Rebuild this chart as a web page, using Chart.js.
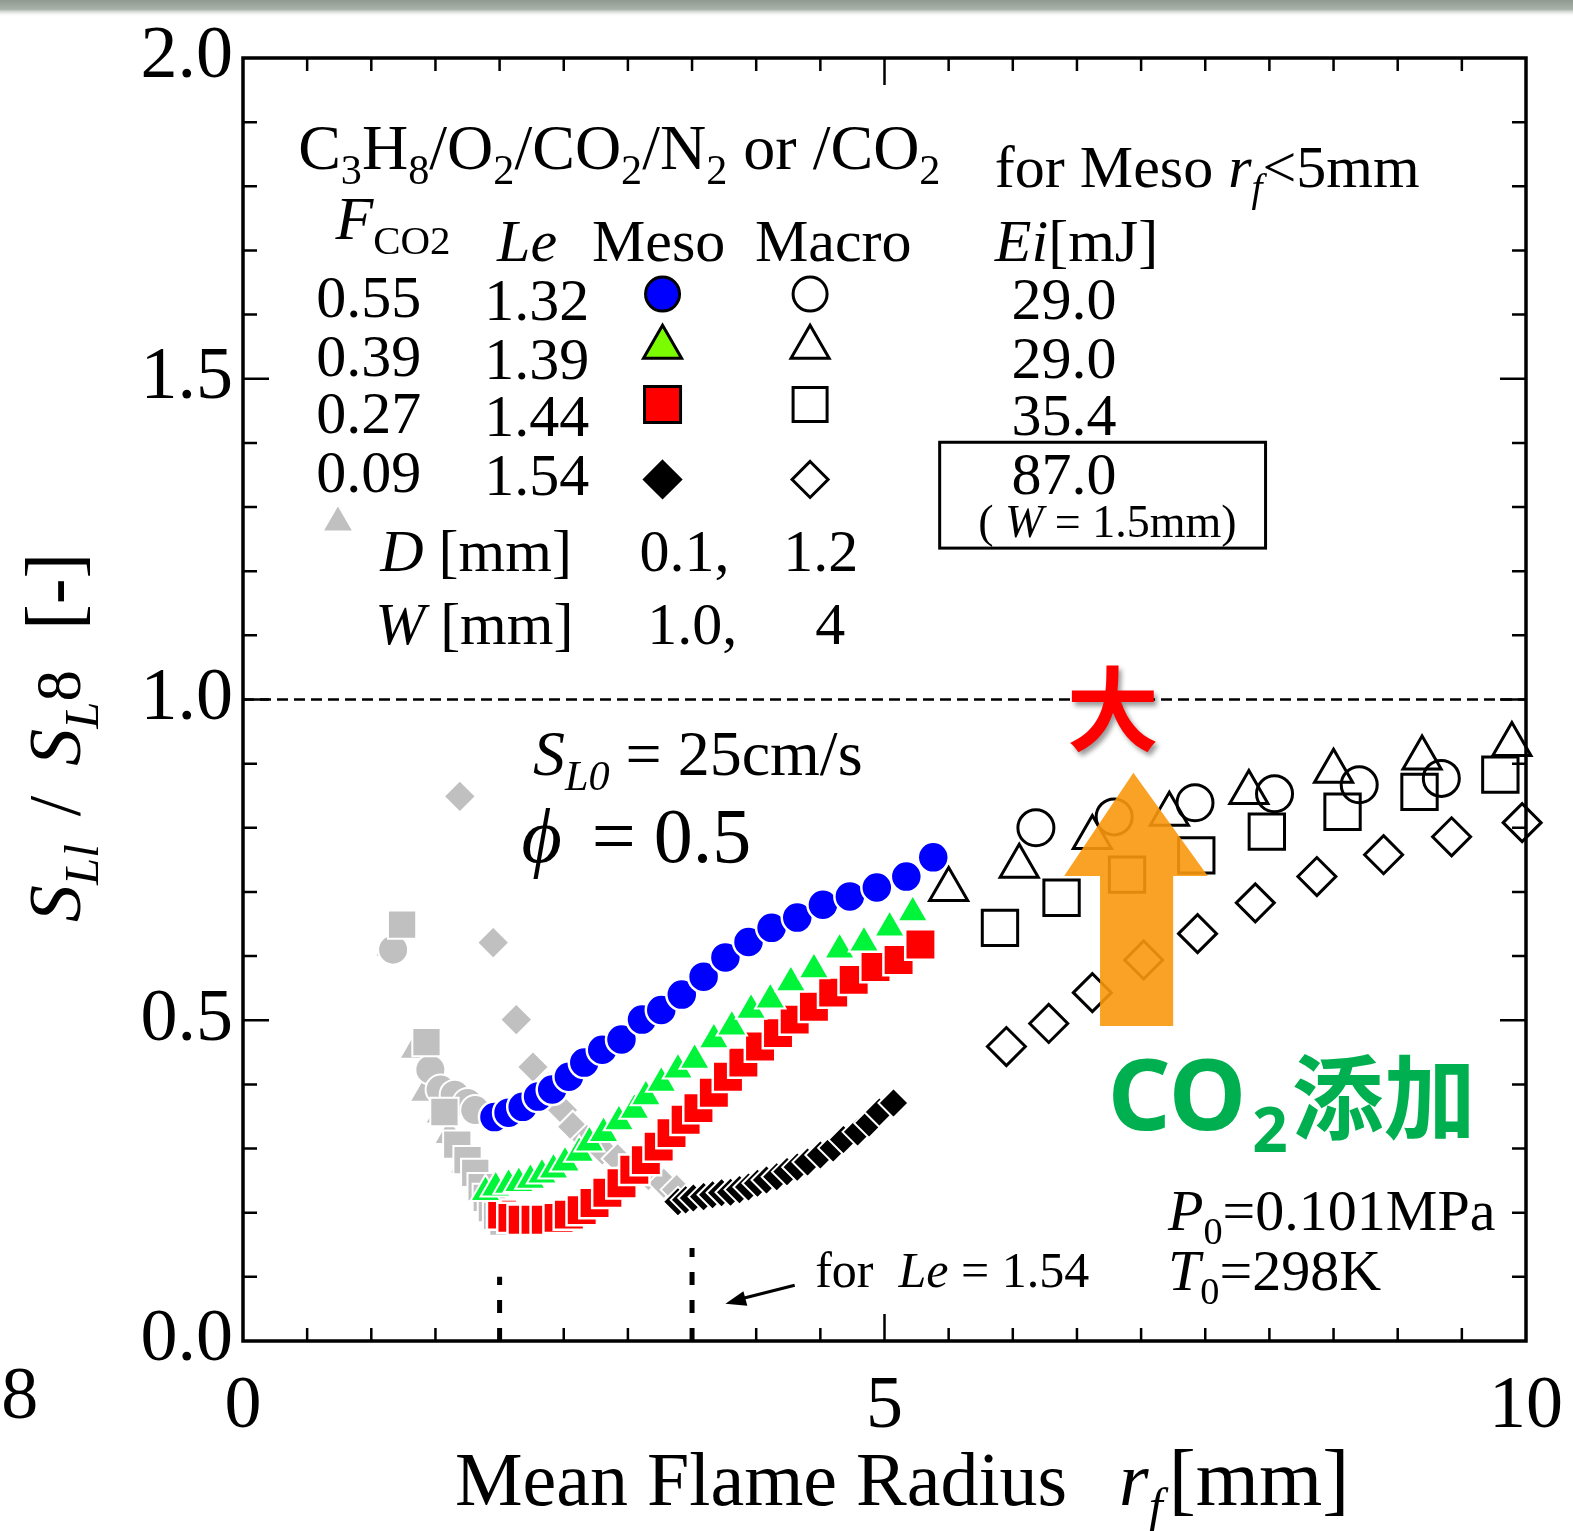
<!DOCTYPE html>
<html>
<head>
<meta charset="utf-8">
<script src="https://cdn.jsdelivr.net/npm/chart.js@4.4.1/dist/chart.umd.min.js"></script>
<style>
  html, body { margin: 0; padding: 0; background: #fff; }
  canvas { display: block; }
</style>
</head>
<body>
<canvas id="flameChart" width="1573" height="1531"></canvas>
<script>
const SERIF = '"Liberation Serif", "Times New Roman", serif';
const SANS = '"Noto Sans", "Liberation Sans", sans-serif';
const CJK = '"Noto Sans CJK JP", "Noto Sans CJK SC", sans-serif';

// Meso burner (filled symbols): r_f [mm] vs S_Ll / S_L8
const mesoCircleX = [1.96, 2.07, 2.18, 2.30, 2.41, 2.54, 2.66, 2.80, 2.95, 3.11, 3.26, 3.42, 3.59, 3.76, 3.94, 4.12, 4.32, 4.52, 4.73, 4.94, 5.17, 5.38];
const mesoCircleY = [0.349, 0.356, 0.365, 0.381, 0.392, 0.412, 0.434, 0.454, 0.470, 0.501, 0.516, 0.540, 0.568, 0.598, 0.622, 0.644, 0.660, 0.680, 0.693, 0.707, 0.724, 0.754];

const mesoTriX = [1.89, 1.97, 2.07, 2.15, 2.24, 2.33, 2.42, 2.51, 2.62, 2.70, 2.81, 2.93, 3.05, 3.14, 3.26, 3.39, 3.52, 3.67, 3.81, 3.96, 4.11, 4.27, 4.45, 4.65, 4.84, 5.04, 5.22];
const mesoTriY = [0.232, 0.239, 0.243, 0.246, 0.251, 0.259, 0.267, 0.278, 0.293, 0.309, 0.324, 0.342, 0.360, 0.381, 0.402, 0.423, 0.438, 0.470, 0.490, 0.516, 0.532, 0.559, 0.579, 0.610, 0.621, 0.644, 0.668];

const mesoSqX = [2.02, 2.10, 2.18, 2.28, 2.36, 2.46, 2.54, 2.64, 2.74, 2.84, 2.95, 3.05, 3.14, 3.24, 3.34, 3.45, 3.55, 3.67, 3.78, 3.90, 4.03, 4.17, 4.30, 4.45, 4.60, 4.76, 4.93, 5.11, 5.28];
const mesoSqY = [0.197, 0.192, 0.189, 0.189, 0.189, 0.192, 0.197, 0.204, 0.215, 0.231, 0.246, 0.267, 0.282, 0.303, 0.324, 0.345, 0.363, 0.387, 0.412, 0.434, 0.459, 0.480, 0.501, 0.521, 0.543, 0.563, 0.583, 0.594, 0.618];

const mesoDiaX = [3.39, 3.45, 3.51, 3.59, 3.66, 3.73, 3.80, 3.87, 3.94, 4.01, 4.08, 4.16, 4.24, 4.32, 4.40, 4.50, 4.60, 4.68, 4.79, 4.88, 4.96, 5.07];
const mesoDiaY = [0.217, 0.220, 0.223, 0.225, 0.228, 0.231, 0.232, 0.236, 0.240, 0.246, 0.251, 0.256, 0.264, 0.271, 0.279, 0.290, 0.301, 0.314, 0.326, 0.340, 0.357, 0.371];

// Macro burner (open symbols)
const macroTriX = [5.50, 6.05, 6.62, 7.22, 7.84, 8.50, 9.19, 9.89];
const macroTriY = [0.704, 0.740, 0.785, 0.821, 0.855, 0.888, 0.909, 0.930];
const macroCircleX = [6.18, 6.79, 7.42, 8.04, 8.70, 9.34];
const macroCircleY = [0.800, 0.817, 0.839, 0.853, 0.867, 0.877];
const macroSqX = [5.90, 6.38, 6.89, 7.43, 7.98, 8.57, 9.17, 9.80];
const macroSqY = [0.644, 0.691, 0.727, 0.757, 0.794, 0.825, 0.856, 0.883];
const macroDiaX = [5.95, 6.28, 6.62, 7.02, 7.44, 7.89, 8.37, 8.89, 9.42, 9.97];
const macroDiaY = [0.459, 0.495, 0.543, 0.594, 0.635, 0.683, 0.724, 0.758, 0.786, 0.808];

// grey data (early stage, ignition affected)
const greySqX = [1.24, 1.43, 1.57, 1.67, 1.75, 1.81, 1.86, 1.90, 1.94, 1.98, 2.03];
const greySqY = [0.649, 0.466, 0.357, 0.306, 0.282, 0.262, 0.240, 0.223, 0.207, 0.195, 0.186];
const greyDiaX = [1.69, 1.95, 2.13, 2.26, 2.38, 2.49, 2.57, 2.68, 2.80, 2.92, 3.04, 3.16, 3.28, 3.38];
const greyDiaY = [0.849, 0.621, 0.501, 0.427, 0.396, 0.360, 0.334, 0.314, 0.298, 0.284, 0.270, 0.258, 0.246, 0.236];
const greyTriX = [0.74, 1.15, 1.34, 1.42, 1.54, 1.61, 1.73, 1.81];
const greyTriY = [1.276, 0.613, 0.454, 0.387, 0.353, 0.321, 0.275, 0.251];
const greyCircleX = [1.17, 1.46, 1.54, 1.65, 1.75, 1.81];
const greyCircleY = [0.610, 0.423, 0.392, 0.384, 0.371, 0.360];

// legend table
const fco2 = ['0.55', '0.39', '0.27', '0.09'];
const lewis = ['1.32', '1.39', '1.44', '1.54'];
const ignition = ['29.0', '29.0', '35.4', '87.0'];

const xTicks = [0, 5, 10];
const yTicks = [0, 0.5, 1.0, 1.5, 2.0];

function pts(xs, ys) {
  return xs.map((x, i) => ({ x: x, y: ys[i] }));
}

function series(label, xs, ys, style, radius, fill, border, bw) {
  return {
    label: label,
    data: pts(xs, ys),
    showLine: false,
    clip: false,
    pointStyle: style,
    pointRadius: radius,
    pointHoverRadius: radius,
    pointBackgroundColor: fill,
    pointBorderColor: border,
    pointBorderWidth: bw,
    backgroundColor: fill,
    borderColor: border
  };
}

const GREY = '#c0c0c0';
const OPEN = 'rgba(0,0,0,0)';

// first dataset ends up on top
const datasets = [
  series('Meso 0.55', mesoCircleX, mesoCircleY, 'circle', 15.5, '#0000ff', '#ffffff', 2.5),
  series('Meso 0.39', mesoTriX, mesoTriY, 'triangle', 17.5, '#00f53a', '#ffffff', 2),
  series('Meso 0.27', mesoSqX, mesoSqY, 'rect', 21.5, '#ff0000', '#ffffff', 2.5),
  series('Meso 0.09', mesoDiaX, mesoDiaY, 'rectRot', 15, '#000000', '#ffffff', 2),
  series('grey sq', greySqX, greySqY, 'rect', 20, GREY, '#ffffff', 2),
  series('grey circle', greyCircleX, greyCircleY, 'circle', 15, GREY, '#ffffff', 2),
  series('grey tri', greyTriX, greyTriY, 'triangle', 18, GREY, '#ffffff', 2),
  series('grey dia', greyDiaX, greyDiaY, 'rectRot', 16, GREY, '#ffffff', 2),
  series('Macro 0.39', macroTriX, macroTriY, 'triangle', 22, OPEN, '#000000', 3),
  series('Macro 0.55', macroCircleX, macroCircleY, 'circle', 18, OPEN, '#000000', 3),
  series('Macro 0.27', macroSqX, macroSqY, 'rect', 25, OPEN, '#000000', 3),
  series('Macro 0.09', macroDiaX, macroDiaY, 'rectRot', 19, OPEN, '#000000', 3)
];

// draws a row of text pieces (italic / subscript) starting at x
function drawRuns(ctx, x, y, size, runs, family) {
  let cx = x;
  runs.forEach(r => {
    if (r.gap) { cx += r.gap; return; }
    const s = size * (r.sub ? 0.66 : (r.s || 1));
    ctx.font = (r.i ? 'italic ' : '') + (r.b ? 'bold ' : '') + s + 'px ' + (r.f || family || SERIF);
    const dy = r.sub ? size * 0.24 : 0;
    ctx.fillText(r.t, cx, y + dy);
    cx += ctx.measureText(r.t).width;
  });
  return cx;
}

function shape(ctx, kind, x, y, r, fill, stroke, lw) {
  ctx.beginPath();
  if (kind === 'circle') {
    ctx.arc(x, y, r, 0, Math.PI * 2);
  } else if (kind === 'triangle') {
    ctx.moveTo(x, y - r);
    ctx.lineTo(x + r * 0.866, y + r / 2);
    ctx.lineTo(x - r * 0.866, y + r / 2);
    ctx.closePath();
  } else if (kind === 'rect') {
    ctx.rect(x - r, y - r, 2 * r, 2 * r);
  } else {
    ctx.moveTo(x, y - r);
    ctx.lineTo(x + r, y);
    ctx.lineTo(x, y + r);
    ctx.lineTo(x - r, y);
    ctx.closePath();
  }
  if (fill) { ctx.fillStyle = fill; ctx.fill(); }
  if (stroke) { ctx.strokeStyle = stroke; ctx.lineWidth = lw; ctx.stroke(); }
}

const figurePlugin = {
  id: 'figure',
  beforeDraw(chart) {
    const ctx = chart.ctx;
    const g = ctx.createLinearGradient(0, 0, 0, 17);
    g.addColorStop(0, '#8e998f');
    g.addColorStop(0.55, '#a9b2aa');
    g.addColorStop(1, 'rgba(255,255,255,0)');
    ctx.save();
    ctx.fillStyle = g;
    ctx.fillRect(0, 0, chart.width, 17);
    ctx.restore();
  },
  beforeDatasetsDraw(chart) {
    const { ctx, chartArea: a, scales } = chart;
    const X = v => scales.x.getPixelForValue(v);
    const Y = v => scales.y.getPixelForValue(v);
    ctx.save();

    // inward ticks on all four sides
    ctx.strokeStyle = '#000';
    ctx.lineWidth = 2.5;
    ctx.beginPath();
    for (let k = 1; k < 20; k++) {
      const px = X(k * 0.5);
      const len = k % 10 === 0 ? 27 : 13;
      ctx.moveTo(px, a.bottom); ctx.lineTo(px, a.bottom - len);
      ctx.moveTo(px, a.top); ctx.lineTo(px, a.top + len);
    }
    for (let k = 1; k < 20; k++) {
      const py = Y(k * 0.1);
      const len = k % 5 === 0 ? 26 : 14;
      ctx.moveTo(a.left, py); ctx.lineTo(a.left + len, py);
      ctx.moveTo(a.right, py); ctx.lineTo(a.right - len, py);
    }
    ctx.stroke();

    // frame
    ctx.lineWidth = 3.5;
    ctx.strokeRect(a.left, a.top, a.right - a.left, a.bottom - a.top);

    // S_Ll / S_L8 = 1 reference line
    ctx.lineWidth = 2.5;
    ctx.setLineDash([11, 6]);
    ctx.beginPath();
    ctx.moveTo(a.left, Y(1.0));
    ctx.lineTo(a.right, Y(1.0));
    ctx.stroke();

    // markers at r_f = 2.0 and 3.5 mm
    ctx.lineWidth = 5;
    ctx.setLineDash([13, 15]);
    ctx.beginPath();
    ctx.moveTo(X(2.0), a.bottom); ctx.lineTo(X(2.0), Y(0.10));
    ctx.moveTo(X(3.5), a.bottom); ctx.lineTo(X(3.5), Y(0.145));
    ctx.stroke();
    ctx.setLineDash([]);

    // pointer to the Le = 1.54 marker
    ctx.lineWidth = 3;
    const x0 = X(4.30), y0 = Y(0.087), x1 = X(3.76), y1 = Y(0.058);
    ctx.beginPath();
    ctx.moveTo(x0, y0); ctx.lineTo(x1 + 12, y1 - 4);
    ctx.stroke();
    const ang = Math.atan2(y1 - y0, x1 - x0);
    ctx.beginPath();
    ctx.moveTo(x1, y1);
    ctx.lineTo(x1 - 22 * Math.cos(ang - 0.35), y1 - 22 * Math.sin(ang - 0.35));
    ctx.lineTo(x1 - 22 * Math.cos(ang + 0.35), y1 - 22 * Math.sin(ang + 0.35));
    ctx.closePath();
    ctx.fillStyle = '#000';
    ctx.fill();

    // axis titles
    ctx.fillStyle = '#000';
    ctx.textBaseline = 'alphabetic';
    drawRuns(ctx, 455, 1505, 76, [
      { t: 'Mean Flame Radius' }, { gap: 52 },
      { t: 'r', i: true }, { t: 'f', i: true, sub: true }, { gap: 6 }, { t: '[mm]', s: 1.07 }
    ]);
    ctx.save();
    ctx.translate(80, 922);
    ctx.rotate(-Math.PI / 2);
    drawRuns(ctx, 0, 0, 74, [
      { t: 'S', i: true }, { t: 'Ll', i: true, sub: true }, { gap: 28 }, { t: '/' }, { gap: 30 },
      { t: 'S', i: true }, { t: 'L', i: true, sub: true }, { t: '8', s: 0.85 }, { gap: 40 }, { t: '[-]', s: 1.05 }
    ]);
    ctx.restore();

    // stray tick label left of the axis
    ctx.font = '74px ' + SERIF;
    ctx.textAlign = 'center';
    ctx.fillText('8', X(-1.74), 1418);
    ctx.textAlign = 'left';

    // legend block
    drawRuns(ctx, X(0.43), Y(1.827), 64, [
      { t: 'C' }, { t: '3', sub: true }, { t: 'H' }, { t: '8', sub: true }, { t: '/O' }, { t: '2', sub: true },
      { t: '/CO' }, { t: '2', sub: true }, { t: '/N' }, { t: '2', sub: true }, { t: ' or /CO' }, { t: '2', sub: true }
    ]);
    drawRuns(ctx, X(5.86), Y(1.799), 60, [
      { t: 'for Meso ' }, { t: 'r', i: true }, { t: 'f', i: true, sub: true }, { t: '<5mm' }
    ]);
    drawRuns(ctx, X(0.72), Y(1.718), 62, [{ t: 'F', i: true }, { t: 'CO2', sub: true }]);
    drawRuns(ctx, X(1.98), Y(1.683), 60, [{ t: 'Le', i: true }]);
    drawRuns(ctx, X(2.72), Y(1.683), 60, [{ t: 'Meso' }]);
    drawRuns(ctx, X(3.99), Y(1.683), 60, [{ t: 'Macro' }]);
    drawRuns(ctx, X(5.86), Y(1.683), 60, [{ t: 'Ei', i: true }, { t: '[mJ]' }]);

    const rowY = [1.596, 1.505, 1.415, 1.324];
    const markY = [1.632, 1.549, 1.460, 1.343];
    const mesoFill = ['#0000ff', '#7cfc00', '#ff0000', '#000000'];
    const kinds = ['circle', 'triangle', 'rect', 'diamond'];
    const mesoR = [17, 22, 18, 18];
    const macroR = [17, 22, 17, 18];
    for (let i = 0; i < 4; i++) {
      ctx.font = '60px ' + SERIF;
      ctx.fillStyle = '#000';
      ctx.fillText(fco2[i], X(0.57), Y(rowY[i]));
      ctx.fillText(lewis[i], X(1.88), Y(rowY[i]) + 3);
      ctx.fillText(ignition[i], X(5.99), Y(rowY[i]) + 2);
      shape(ctx, kinds[i], X(3.27), Y(markY[i]), mesoR[i], mesoFill[i], '#000', 3);
      shape(ctx, kinds[i], X(4.42), Y(markY[i]), macroR[i], null, '#000', 3);
    }
    ctx.strokeStyle = '#000';
    ctx.lineWidth = 3;
    ctx.strokeRect(X(5.43), Y(1.401), X(7.97) - X(5.43), Y(1.236) - Y(1.401));
    ctx.fillStyle = '#000';
    drawRuns(ctx, X(5.73), Y(1.254), 46, [{ t: '( ' }, { t: 'W', i: true }, { t: ' = 1.5mm)' }]);

    drawRuns(ctx, X(1.07), Y(1.200), 60, [{ t: 'D', i: true }, { t: ' [mm]' }]);
    drawRuns(ctx, X(3.09), Y(1.200), 60, [{ t: '0.1,' }]);
    drawRuns(ctx, X(4.21), Y(1.200), 60, [{ t: '1.2' }]);
    drawRuns(ctx, X(1.03), Y(1.086), 60, [{ t: 'W', i: true }, { t: ' [mm]' }]);
    drawRuns(ctx, X(3.15), Y(1.086), 60, [{ t: '1.0,' }]);
    drawRuns(ctx, X(4.46), Y(1.086), 60, [{ t: '4' }]);

    // flame conditions
    drawRuns(ctx, X(2.26), Y(0.883), 64, [{ t: 'S', i: true }, { t: 'L0', i: true, sub: true }, { t: ' = 25cm/s' }]);
    drawRuns(ctx, X(2.17), Y(0.747), 78, [{ t: '\u03d5', i: true }, { gap: 30 }, { t: '=' }, { gap: 18 }, { t: '0.5' }]);
    drawRuns(ctx, X(4.46), Y(0.084), 50, [{ t: 'for  ' }, { t: 'Le', i: true }, { t: ' = 1.54' }]);
    drawRuns(ctx, X(7.21), Y(0.173), 58, [{ t: 'P', i: true }, { t: '0', sub: true }, { t: '=0.101MPa' }]);
    drawRuns(ctx, X(7.21), Y(0.080), 58, [{ t: 'T', i: true }, { t: '0', sub: true }, { t: '=298K' }]);
    ctx.restore();
  },
  afterDatasetsDraw(chart) {
    const { ctx, scales } = chart;
    const X = v => scales.x.getPixelForValue(v);
    const Y = v => scales.y.getPixelForValue(v);
    ctx.save();

    // CO2 addition arrow
    ctx.fillStyle = 'rgba(249,152,14,0.9)';
    ctx.beginPath();
    ctx.moveTo(X(6.94), Y(0.886));
    ctx.lineTo(X(7.52), Y(0.725));
    ctx.lineTo(X(7.25), Y(0.725));
    ctx.lineTo(X(7.25), Y(0.491));
    ctx.lineTo(X(6.68), Y(0.491));
    ctx.lineTo(X(6.68), Y(0.725));
    ctx.lineTo(X(6.40), Y(0.725));
    ctx.closePath();
    ctx.fill();

    ctx.shadowColor = 'rgba(0,0,0,0.4)';
    ctx.shadowBlur = 5;
    ctx.shadowOffsetX = 3;
    ctx.shadowOffsetY = 4;
    ctx.fillStyle = '#ff0000';
    ctx.font = 'bold 92px ' + CJK;
    ctx.textAlign = 'center';
    ctx.textBaseline = 'middle';
    ctx.fillText('\u5927', X(6.78), Y(0.985));
    ctx.shadowColor = 'rgba(0,0,0,0)';

    ctx.textAlign = 'left';
    ctx.textBaseline = 'alphabetic';
    ctx.fillStyle = '#00b050';
    let cx = X(6.74);
    const by = Y(0.329);
    ctx.font = 'bold 98px ' + SANS;
    ctx.fillText('CO', cx, by);
    cx += ctx.measureText('CO').width + 6;
    ctx.font = 'bold 62px ' + SANS;
    ctx.fillText('2', cx, by + 22);
    cx += ctx.measureText('2').width + 4;
    ctx.font = 'bold 92px ' + CJK;
    ctx.fillText('\u6dfb\u52a0', cx, by + 2);
    ctx.restore();
  }
};

new Chart(document.getElementById('flameChart'), {
  type: 'scatter',
  data: { datasets: datasets },
  options: {
    responsive: false,
    animation: false,
    devicePixelRatio: 1,
    layout: { padding: { top: 58, right: 47, left: 0, bottom: 0 } },
    plugins: { legend: { display: false }, tooltip: { enabled: false } },
    scales: {
      x: {
        type: 'linear', min: 0, max: 10,
        afterFit: s => { s.height = 190; s.paddingLeft = 0; s.paddingRight = 0; },
        afterBuildTicks: s => { s.ticks = xTicks.map(v => ({ value: v })); },
        grid: { display: false, drawTicks: false },
        border: { display: false },
        ticks: { color: '#000', padding: 22, maxRotation: 0, font: { family: SERIF, size: 74 } }
      },
      y: {
        type: 'linear', min: 0, max: 2,
        afterFit: s => { s.width = 243; s.paddingTop = 0; s.paddingBottom = 0; },
        afterBuildTicks: s => { s.ticks = yTicks.map(v => ({ value: v })); },
        grid: { display: false, drawTicks: false },
        border: { display: false },
        ticks: { color: '#000', padding: 10, font: { family: SERIF, size: 74 }, callback: v => v.toFixed(1) }
      }
    }
  },
  plugins: [figurePlugin]
});
</script>
</body>
</html>
